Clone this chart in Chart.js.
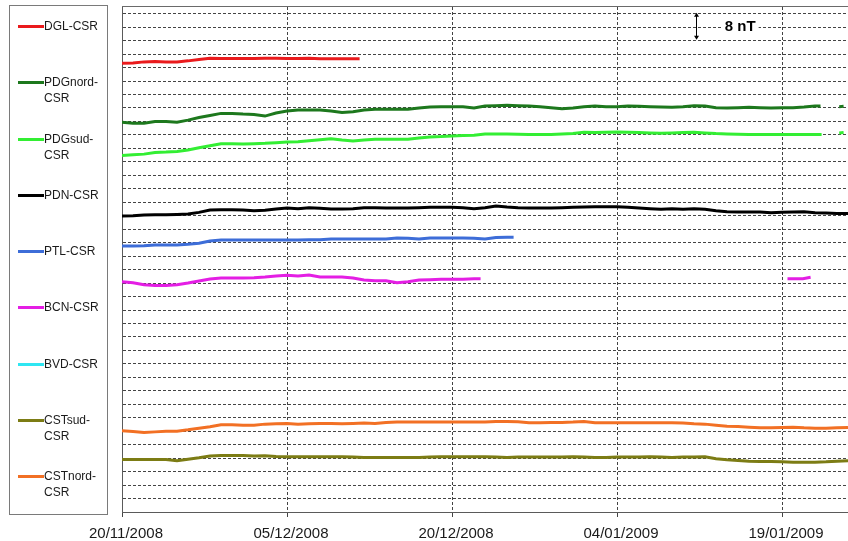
<!DOCTYPE html>
<html>
<head>
<meta charset="utf-8">
<script src="https://cdn.jsdelivr.net/npm/chart.js@4.4.0/dist/chart.umd.min.js"></script>
<style>
  html, body { margin: 0; padding: 0; background: #ffffff; }
  canvas { display: block; }
</style>
</head>
<body>
<canvas id="chart" width="848" height="541"></canvas>
<script>
// Station differences against CSR, daily values in nT (offset per station), day 0 = 20/11/2008
const seriesNames = ['DGL-CSR', 'PDGnord-CSR', 'PDGsud-CSR', 'PDN-CSR', 'PTL-CSR', 'BCN-CSR', 'BVD-CSR', 'CSTsud-CSR', 'CSTnord-CSR'];
const seriesColors = ['#ea1a1c', '#1d781d', '#33ee33', '#000000', '#3d6dd8', '#e41ee4', '#2fe6f2', '#7c7c14', '#f27024'];

const tickDays = [0, 15, 30, 45, 60];
const tickLabels = ['20/11/2008', '05/12/2008', '20/12/2008', '04/01/2009', '19/01/2009'];

// daily values from day 0; the "Late" arrays add points at given days (null = data gap)
const dglValues = [133.3,133.4,133.7,133.8,133.7,133.7,134.0,134.4,134.8,134.7,134.7,134.7,134.7,134.8,134.8,134.7,134.7,134.8,134.6,134.6,134.6,134.6];
const dglLateDays = [21.6];
const dglLateValues = [134.6];

const pdgNordValues = [115.8,115.5,115.5,116.0,116.0,115.8,116.4,117.2,117.8,118.4,118.4,118.2,118.1,117.6,118.5,119.1,119.4,119.4,119.4,119.1,118.7,118.9,119.4,119.6,119.6,119.6,119.6,120.0,120.3,120.4,120.4,120.4,120.0,120.6,120.7,120.8,120.7,120.6,120.4,120.1,119.8,120.0,120.4,120.6,120.4,120.4,120.6,120.5,120.4,120.3,120.2,120.4,120.7,120.6,120.1,120.0,120.1,120.2,120.1,120.0,120.1,120.1,120.3,120.6];
const pdgNordLateDays = [63.5, 64.4, 65.2, 65.6];
const pdgNordLateValues = [120.6, null, 120.4, 120.5];

const pdgSudValues = [105.9,106.1,106.3,106.8,106.9,107.1,107.5,108.2,108.8,109.4,109.4,109.3,109.4,109.5,109.7,109.9,110.0,110.3,110.6,110.9,110.5,110.2,110.5,110.7,110.7,110.7,110.7,111.1,111.4,111.5,111.7,111.8,111.9,112.3,112.3,112.3,112.2,112.1,112.1,112.1,112.3,112.4,112.8,112.7,112.8,112.9,112.8,112.7,112.6,112.5,112.6,112.7,112.8,112.6,112.4,112.3,112.2,112.1,112.1,112.1,112.1,112.1,112.1,112.1];
const pdgSudLateDays = [63.6, 64.4, 65.2, 65.6];
const pdgSudLateValues = [112.1, null, 112.6, 112.7];

const pdnValues = [87.9,88.0,88.2,88.3,88.3,88.4,88.5,89.0,89.7,89.8,89.8,89.7,89.5,89.6,90.0,90.3,90.1,90.4,90.2,90.0,90.0,90.1,90.4,90.4,90.3,90.3,90.3,90.4,90.5,90.5,90.5,90.4,90.1,90.4,90.9,90.6,90.4,90.3,90.3,90.3,90.4,90.5,90.6,90.7,90.7,90.7,90.5,90.3,90.1,89.9,90.1,89.9,90.1,89.9,89.5,89.2,89.1,89.1,89.1,88.9,89.0,89.1,89.2,88.9,88.8,88.7,88.7];

const ptlValues = [79.0,79.0,79.1,79.3,79.3,79.3,79.5,79.8,80.5,80.8,80.8,80.8,80.8,80.8,80.8,80.8,80.8,80.9,80.9,81.1,81.1,81.1,81.1,81.1,81.1,81.4,81.3,81.1,81.4,81.4,81.4,81.4,81.3,81.1,81.5,81.6];
const ptlLateDays = [35.6];
const ptlLateValues = [81.6];

const bcnValues = [68.4,68.1,67.5,67.3,67.3,67.5,68.0,68.6,69.2,69.5,69.5,69.5,69.6,69.8,70.1,70.3,70.1,70.4,69.8,69.8,69.8,69.5,68.9,68.7,68.7,68.1,68.4,68.9,69.0,69.1,69.1,69.1,69.3];
const bcnLateDays = [32.6, 46.0, 60.5, 61.9, 62.6];
const bcnLateValues = [69.3, null, 69.3, 69.3, 69.7];

const bvdValues = [];

const cstSudValues = [15.6,15.6,15.6,15.6,15.6,15.2,15.7,16.1,16.6,16.8,16.8,16.8,16.6,16.7,16.5,16.4,16.4,16.4,16.4,16.4,16.4,16.3,16.2,16.2,16.2,16.2,16.2,16.2,16.3,16.4,16.4,16.4,16.4,16.4,16.3,16.2,16.3,16.3,16.3,16.3,16.3,16.4,16.3,16.2,16.2,16.3,16.3,16.3,16.4,16.3,16.2,16.3,16.3,16.4,15.8,15.5,15.3,15.1,15.0,15.0,14.9,14.8,14.8,14.8,14.9,15.1,15.2];

const cstNordValues = [24.1,23.9,23.6,23.8,24.0,24.0,24.4,24.9,25.3,25.9,25.9,25.8,25.8,26.1,26.2,26.3,26.1,26.2,26.3,26.3,26.2,26.3,26.4,26.3,26.6,26.7,26.7,26.7,26.7,26.7,26.7,26.7,26.7,26.7,26.9,26.9,26.8,26.5,26.5,26.6,26.6,26.7,26.9,26.5,26.5,26.5,26.5,26.5,26.5,26.5,26.5,26.4,26.2,26.1,25.8,25.5,25.4,25.2,25.0,25.0,25.1,25.2,25.0,24.9,24.9,25.0,25.1];

// scale reference bar: "8 nT"
const scaleBarLabel = '8 nT';
const scaleBarSpan = 8;
const scaleBarDay = 52.15;
const scaleBarTop = 148.3;
const labelDay = 54.8;

const gridStep = 4;
const yMax = 150;
const xMax = 66;

function toPoints(values, lateDays, lateValues) {
  const pts = values.map((v, i) => ({ x: i, y: v }));
  (lateDays || []).forEach((d, i) => pts.push({ x: d, y: lateValues[i] }));
  return pts;
}

const seriesData = [
  toPoints(dglValues, dglLateDays, dglLateValues),
  toPoints(pdgNordValues, pdgNordLateDays, pdgNordLateValues),
  toPoints(pdgSudValues, pdgSudLateDays, pdgSudLateValues),
  toPoints(pdnValues),
  toPoints(ptlValues, ptlLateDays, ptlLateValues),
  toPoints(bcnValues, bcnLateDays, bcnLateValues),
  toPoints(bvdValues),
  toPoints(cstSudValues),
  toPoints(cstNordValues)
];

const datasets = seriesNames.map((name, i) => ({
  label: name,
  data: seriesData[i],
  borderColor: seriesColors[i],
  backgroundColor: seriesColors[i],
  borderWidth: 3,
  pointRadius: 0,
  tension: 0,
  spanGaps: false
}));

const FONT = '"Liberation Sans", Arial, Helvetica, sans-serif';

// top edge of the plot frame
const plotFrame = {
  id: 'plotFrame',
  afterDraw(chart) {
    const { ctx, chartArea } = chart;
    ctx.save();
    ctx.strokeStyle = '#6a6a6a';
    ctx.lineWidth = 1;
    ctx.beginPath();
    ctx.moveTo(chartArea.left, Math.round(chartArea.top) - 0.5);
    ctx.lineTo(chartArea.right, Math.round(chartArea.top) - 0.5);
    ctx.stroke();
    ctx.restore();
  }
};

// boxed legend on the left, one station per row
const sideLegend = {
  id: 'sideLegend',
  afterDraw(chart) {
    const ctx = chart.ctx;
    ctx.save();
    ctx.strokeStyle = '#7a7a7a';
    ctx.lineWidth = 1;
    ctx.strokeRect(9.5, 5.5, 98, 509);
    ctx.font = '12px ' + FONT;
    ctx.textBaseline = 'middle';
    ctx.textAlign = 'left';
    chart.data.datasets.forEach((ds, i) => {
      const y = Math.round(26 + i * 56.25);
      ctx.strokeStyle = ds.borderColor;
      ctx.lineWidth = 3;
      ctx.beginPath();
      ctx.moveTo(18, y + 0.5);
      ctx.lineTo(44, y + 0.5);
      ctx.stroke();
      let lines = [ds.label];
      if (ctx.measureText(ds.label).width > 62) {
        const k = ds.label.indexOf('-') + 1;
        lines = [ds.label.slice(0, k), ds.label.slice(k)];
      }
      ctx.fillStyle = '#1a1a1a';
      lines.forEach((t, j) => ctx.fillText(t, 44, y + 1 + j * 16));
    });
    ctx.restore();
  }
};

// vertical double arrow with its "8 nT" caption
const scaleBar = {
  id: 'scaleBar',
  afterDatasetsDraw(chart) {
    const { ctx, scales } = chart;
    const x = Math.round(scales.x.getPixelForValue(scaleBarDay)) + 0.5;
    const y1 = scales.y.getPixelForValue(scaleBarTop);
    const y2 = scales.y.getPixelForValue(scaleBarTop - scaleBarSpan);
    ctx.save();
    ctx.strokeStyle = '#000';
    ctx.fillStyle = '#000';
    ctx.lineWidth = 1;
    ctx.beginPath();
    ctx.moveTo(x, y1 + 2);
    ctx.lineTo(x, y2 - 2);
    ctx.stroke();
    ctx.beginPath();
    ctx.moveTo(x, y1); ctx.lineTo(x - 2.5, y1 + 4); ctx.lineTo(x + 2.5, y1 + 4); ctx.closePath();
    ctx.fill();
    ctx.beginPath();
    ctx.moveTo(x, y2); ctx.lineTo(x - 2.5, y2 - 4); ctx.lineTo(x + 2.5, y2 - 4); ctx.closePath();
    ctx.fill();
    ctx.font = 'bold 15px ' + FONT;
    ctx.textBaseline = 'middle';
    ctx.textAlign = 'left';
    const tx = scales.x.getPixelForValue(labelDay);
    const ty = scales.y.getPixelForValue(scaleBarTop - scaleBarSpan / 2) + 1;
    const w = ctx.measureText(scaleBarLabel).width;
    ctx.fillStyle = '#fff';
    ctx.fillRect(tx - 3, ty - 7, w + 6, 13);
    ctx.fillStyle = '#000';
    ctx.fillText(scaleBarLabel, tx, ty);
    ctx.restore();
  }
};

new Chart(document.getElementById('chart').getContext('2d'), {
  type: 'line',
  data: { datasets },
  options: {
    responsive: false,
    animation: false,
    devicePixelRatio: 1,
    layout: { padding: { left: 0, top: 7, right: 0, bottom: 0 } },
    plugins: { legend: { display: false }, tooltip: { enabled: false } },
    scales: {
      x: {
        type: 'linear',
        min: 0,
        max: xMax,
        afterBuildTicks: s => { s.ticks = tickDays.map(v => ({ value: v })); },
        afterFit: s => { s.height = 29; s.paddingLeft = 0; s.paddingRight = 0; },
        ticks: {
          autoSkip: false,
          maxRotation: 0,
          padding: 8,
          labelOffset: 4,
          color: '#1a1a1a',
          font: { family: FONT, size: 15 },
          callback: v => tickLabels[tickDays.indexOf(v)]
        },
        grid: { color: '#444444', lineWidth: 1, tickLength: 5, tickColor: '#444444' },
        border: { color: '#5a5a5a', width: 1, dash: [3, 2] }
      },
      y: {
        type: 'linear',
        min: 0,
        max: yMax,
        afterBuildTicks: s => {
          const t = [];
          for (let v = 0; v < yMax; v += gridStep) t.push({ value: v });
          s.ticks = t;
        },
        afterFit: s => { s.width = 122; s.paddingTop = 0; s.paddingBottom = 0; },
        ticks: { display: false },
        grid: { color: '#444444', lineWidth: 1, drawTicks: false },
        border: { color: '#5a5a5a', width: 1, dash: [3, 2] }
      }
    }
  },
  plugins: [plotFrame, sideLegend, scaleBar]
});
</script>
</body>
</html>
